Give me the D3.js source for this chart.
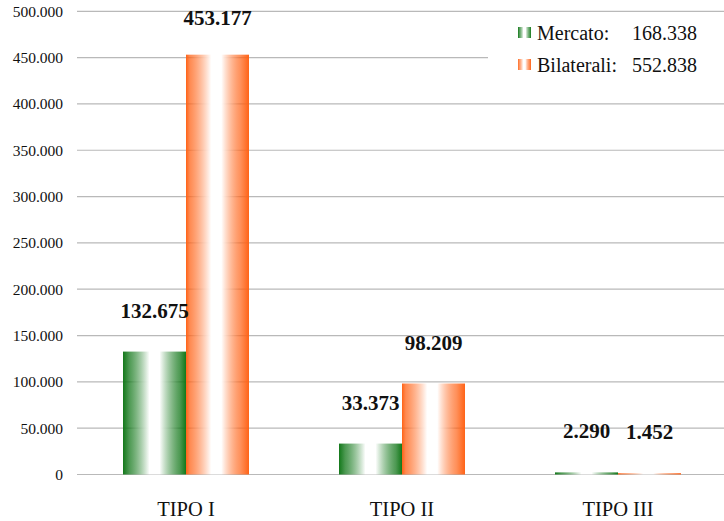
<!DOCTYPE html>
<html>
<head>
<meta charset="utf-8">
<script src="https://cdn.jsdelivr.net/npm/d3@7/dist/d3.min.js"></script>
<style>
  html, body { margin: 0; padding: 0; background: #fff; }
  svg { display: block; }
  svg text { font-family: 'Liberation Serif', 'Times New Roman', Times, serif !important; fill: #111; }
</style>
</head>
<body>
<svg id="chart" width="724" height="521"></svg>
<script>
// Categories and series values
const categories = ["TIPO I", "TIPO II", "TIPO III"];
const seriesNames = ["Mercato", "Bilaterali"];
const mercato = [132675, 33373, 2290];
const bilaterali = [453177, 98209, 1452];
const seriesTotals = [168338, 552838];
const yTicks = [0, 50000, 100000, 150000, 200000, 250000, 300000, 350000, 400000, 450000, 500000];

const seriesColors = ["#13781a", "#ff6317"];

const W = 724, H = 521;
const svg = d3.select("#chart");

const fmt = v => d3.format(",")(v).replace(/,/g, ".");

const y = d3.scaleLinear().domain([0, 500000]).range([474.5, 11.3]);
const x = d3.scaleBand().domain(categories).range([78, 726])
  .paddingInner(90 / 216).paddingOuter(45 / 216);
const xs = d3.scaleBand().domain(seriesNames).range([0, x.bandwidth()]);

// Horizontal gradients: saturated edges fading to white in the middle
const defs = svg.append("defs");
seriesNames.forEach((name, i) => {
  const g = defs.append("linearGradient").attr("id", "grad" + i)
    .attr("x1", "0%").attr("x2", "100%").attr("y1", "0%").attr("y2", "0%");
  const c = seriesColors[i];
  const stops = i === 0
    ? [[0, c, 1], [0.1, c, 0.75], [0.42, "#fff", 1], [0.58, "#fff", 1], [0.9, c, 0.75], [1, c, 1]]
    : [[0, c, 1], [0.06, c, 0.75], [0.40, "#fff", 1], [0.56, "#fff", 1], [0.86, c, 0.7], [1, c, 1]];
  stops.forEach(([o, col, op]) => {
    g.append("stop").attr("offset", o).attr("stop-color", col).attr("stop-opacity", op);
  });
});

// Gridlines
svg.append("g").selectAll("line").data(yTicks).join("line")
  .attr("x1", 77).attr("x2", W)
  .attr("y1", d => y(d)).attr("y2", d => y(d))
  .attr("stroke", "#b9b9b9").attr("stroke-width", 1.2);

// Y axis labels
const yAxis = d3.axisLeft(y).tickValues(yTicks).tickFormat(fmt).tickSize(0).tickPadding(0);
const yg = svg.append("g").attr("transform", "translate(63,0)").call(yAxis);
yg.select(".domain").remove();
yg.selectAll("text").attr("font-size", "15.5px");

// X axis labels
const xAxis = d3.axisBottom(x).tickSize(0).tickPadding(0);
const xg = svg.append("g").attr("transform", "translate(0,500)").call(xAxis);
xg.select(".domain").remove();
xg.selectAll("text").attr("font-size", "20.5px").attr("dy", "0.78em");

// Bars
const rows = categories.map((c, i) => ({ cat: c, vals: [mercato[i], bilaterali[i]] }));
const groups = svg.append("g").selectAll("g").data(rows).join("g")
  .attr("transform", d => `translate(${x(d.cat)},0)`);

groups.selectAll("rect").data(d => d.vals.map((v, i) => ({ v, i }))).join("rect")
  .attr("x", d => xs(seriesNames[d.i]))
  .attr("width", xs.bandwidth())
  .attr("y", d => y(d.v))
  .attr("height", d => y(0) - y(d.v))
  .attr("fill", d => `url(#grad${d.i})`);

// Value labels above each bar
groups.selectAll("text.val").data(d => d.vals.map((v, i) => ({ v, i }))).join("text")
  .attr("class", "val")
  .attr("x", d => xs(seriesNames[d.i]) + xs.bandwidth() / 2)
  .attr("y", d => Math.max(y(d.v) - 34, 25))
  .attr("text-anchor", "middle")
  .attr("font-size", "21px").attr("font-weight", "bold")
  .text(d => fmt(d.v));

// Legend with series totals
const lg = svg.append("g");
lg.append("rect").attr("x", 488).attr("y", 13).attr("width", W - 488).attr("height", 87).attr("fill", "#fff");
seriesNames.forEach((name, i) => {
  const by = 40 + i * 32;
  lg.append("rect").attr("x", 518).attr("y", by - 13).attr("width", 13).attr("height", 11)
    .attr("fill", `url(#grad${i})`);
  lg.append("text").attr("x", 537).attr("y", by).attr("font-size", "20px")
    .text(name + ":");
  lg.append("text").attr("x", 632).attr("y", by).attr("font-size", "20px")
    .text(fmt(seriesTotals[i]));
});
</script>
</body>
</html>
